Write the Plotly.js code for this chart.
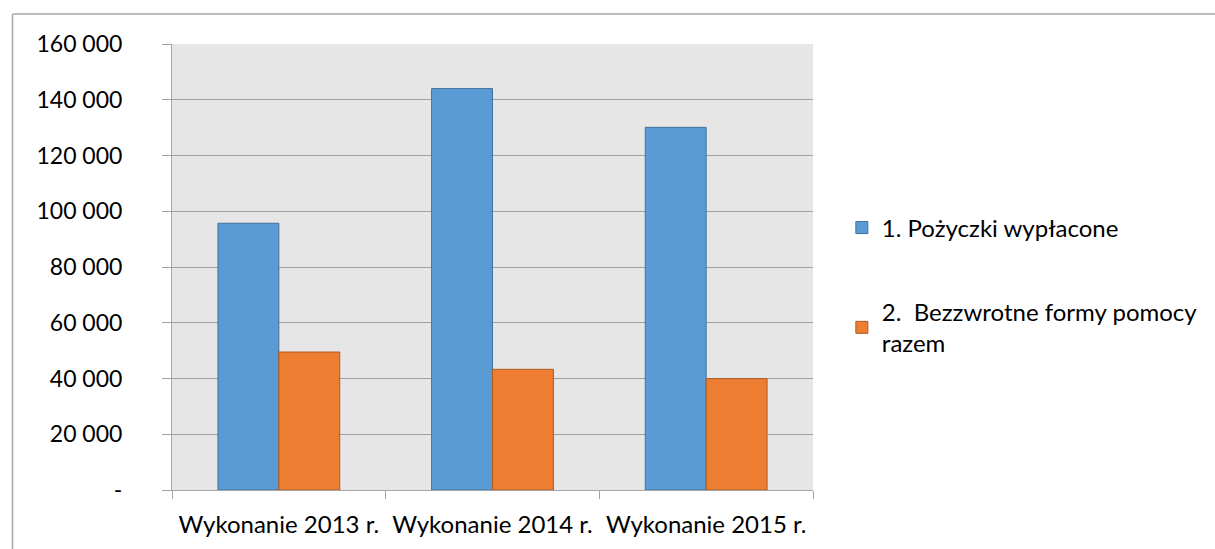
<!DOCTYPE html>
<html>
<head>
<meta charset="utf-8">
<script src="https://cdn.plot.ly/plotly-3.0.1.min.js"></script>
<style>html,body{margin:0;padding:0;background:#fff;}#chart{width:1215px;height:549px;}</style>
</head>
<body>
<div id="chart"></div>
<script>
const categories = ["Wykonanie 2013 r.", "Wykonanie 2014 r.", "Wykonanie 2015 r."];
const seriesNames = ["1. Pożyczki wypłacone", "2.  Bezzwrotne formy pomocy<br>razem"];
const loans = [95700, 144000, 130100];
const grants = [49500, 43300, 39950];
const yTickVals = [0, 20000, 40000, 60000, 80000, 100000, 120000, 140000, 160000];
const yTickText = ["-", "20 000", "40 000", "60 000", "80 000", "100 000", "120 000", "140 000", "160 000"];

const FONT = "Lato, 'Open Sans', sans-serif";
const traces = [
  {type: "bar", name: seriesNames[0], x: categories, y: loans, legendgroup: "a",
   marker: {color: "#5b9bd5", line: {color: "#41719c", width: 1}}},
  {type: "bar", name: seriesNames[1], x: categories, y: grants, legendgroup: "b",
   marker: {color: "#ed7d31", line: {color: "#ae5a21", width: 1}}}
];
const layout = {
  width: 1215, height: 549,
  margin: {l: 172, r: 400, t: 44, b: 59},
  paper_bgcolor: "#ffffff", plot_bgcolor: "#e6e6e6",
  font: {family: FONT, size: 24, color: "#000"},
  barmode: "group", bargap: 0.43, bargroupgap: 0,
  showlegend: true,
  legend: {x: 1.045, xanchor: "left", y: 0.638, yanchor: "top", traceorder: "grouped",
           itemwidth: 30, tracegroupgap: 50, font: {family: FONT, size: 24, color: "#000"},
           bgcolor: "rgba(0,0,0,0)"},
  xaxis: {type: "category", showgrid: false, showline: true, linecolor: "#a6a6a6", linewidth: 1,
          ticks: "outside", tickson: "boundaries", ticklen: 8, tickcolor: "#a6a6a6",
          ticklabelstandoff: 13,
          tickfont: {family: FONT, size: 24, color: "#000"}, fixedrange: true},
  yaxis: {range: [0, 160000], tickvals: yTickVals, ticktext: yTickText, showgrid: true,
          gridcolor: "#a0a0a0", gridwidth: 1, showline: true, linecolor: "#a6a6a6", linewidth: 1,
          ticks: "outside", ticklen: 9, tickcolor: "#a0a0a0", zeroline: false,
          ticklabelstandoff: 35,
          tickfont: {family: FONT, size: 23, color: "#000"}, fixedrange: true},
  shapes: [
    {type: "line", xref: "paper", yref: "paper", x0: -0.2488, x1: 1.63, y0: 1.0673, y1: 1.0673,
     line: {color: "#a6a6a6", width: 1.5}},
    {type: "line", xref: "paper", yref: "paper", x0: -0.2488, x1: -0.2488, y0: 1.0673, y1: -0.14,
     line: {color: "#a6a6a6", width: 1.5}}
  ]
};
Plotly.newPlot("chart", traces, layout, {displayModeBar: false, staticPlot: true});
</script>
</body>
</html>
